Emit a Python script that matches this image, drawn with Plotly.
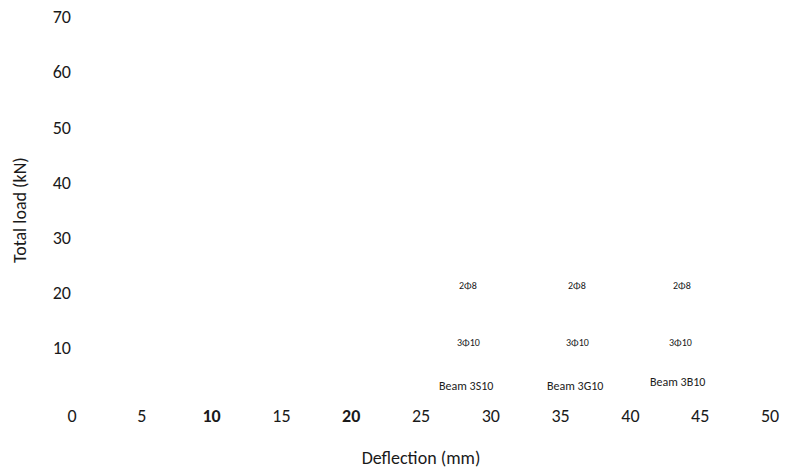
import plotly.graph_objects as go

# Axis ticks
x_ticks = [0, 5, 10, 15, 20, 25, 30, 35, 40, 45, 50]
x_ticktext = ["0", "5", "<b>10</b>", "15", "<b>20</b>", "25", "30", "35", "40", "45", "50"]
y_ticks = [10, 20, 30, 40, 50, 60, 70]

# Annotation labels (beam names and reinforcement)
beam_names = ["Beam 3S10", "Beam 3G10", "Beam 3B10"]
beam_x = [28.2, 36.0, 43.4]
beam_y = [3.1, 3.1, 3.8]
bottom_bars = ["3Φ10", "3Φ10", "3Φ10"]
bottom_x = [28.4, 36.2, 43.6]
bottom_y = [11.0, 11.0, 11.0]
top_bars = ["2Φ8", "2Φ8", "2Φ8"]
top_x = [28.4, 36.2, 43.7]
top_y = [21.3, 21.3, 21.3]

FONT = "Carlito, Lato, 'Open Sans', sans-serif"
TXT = "#1a1a1a"

fig = go.Figure()
fig.add_trace(go.Scatter(x=[], y=[], mode="lines", showlegend=False))

annotations = []
for t, x, y in zip(top_bars, top_x, top_y):
    annotations.append(dict(x=x, y=y, text=t, showarrow=False,
                            font=dict(size=10, family=FONT, color=TXT)))
for t, x, y in zip(bottom_bars, bottom_x, bottom_y):
    annotations.append(dict(x=x, y=y, text=t, showarrow=False,
                            font=dict(size=10, family=FONT, color=TXT)))
for t, x, y in zip(beam_names, beam_x, beam_y):
    annotations.append(dict(x=x, y=y, text=t, showarrow=False,
                            font=dict(size=12, family=FONT, color=TXT)))

# Y-axis title placed as a rotated paper annotation
annotations.append(dict(xref="paper", yref="paper", x=-0.0745, y=0.5, xanchor="center",
                        yanchor="middle", textangle=-90, showarrow=False,
                        text="Total load (kN)",
                        font=dict(size=18, family=FONT, color=TXT)))

fig.update_layout(
    width=785, height=473,
    margin=dict(l=72, r=15, t=17, b=70),
    paper_bgcolor="white", plot_bgcolor="white",
    font=dict(family=FONT, color=TXT),
    annotations=annotations,
    xaxis=dict(range=[0, 50], tickvals=x_ticks, ticktext=x_ticktext,
               showgrid=False, zeroline=False, showline=False, ticks="",
               automargin=False,
               tickfont=dict(size=18, family=FONT, color=TXT),
               title=dict(text="Deflection (mm)", font=dict(size=18, family=FONT, color=TXT),
                          standoff=25)),
    yaxis=dict(range=[0, 70], tickvals=y_ticks,
               showgrid=False, zeroline=False, showline=False, ticks="",
               automargin=False,
               tickfont=dict(size=18, family=FONT, color=TXT)),
)

fig.write_html("out.html", config={"displayModeBar": False},
               post_script="document.body.style.margin='0';document.body.style.overflow='hidden';")
